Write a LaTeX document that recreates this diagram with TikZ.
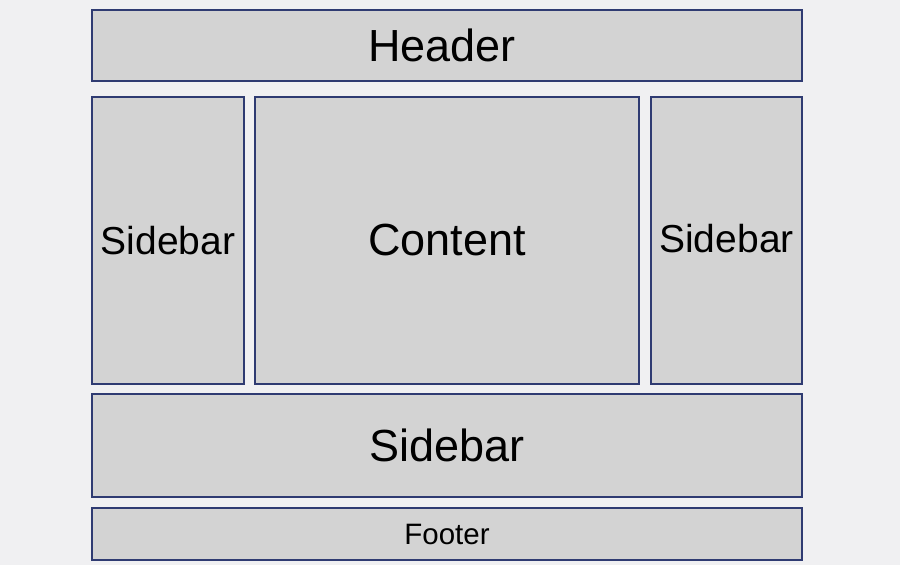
\documentclass[tikz,border=0pt]{standalone}
\usepackage{fontspec}
\setmainfont{Liberation Sans}
\definecolor{bg}{HTML}{F0F0F2}
\definecolor{boxfill}{HTML}{D3D3D3}
\definecolor{boxline}{HTML}{2F3B72}
\begin{document}
\begin{tikzpicture}[x=1pt,y=-1pt,
  box/.style={draw=boxline, fill=boxfill, line width=2.5pt, inner sep=0pt, outer sep=0pt, text=black, align=center},
  big/.style={font=\fontsize{45}{50}\selectfont},
  mid/.style={font=\fontsize{39}{44}\selectfont},
  small/.style={font=\fontsize{29.5}{34}\selectfont}]
\fill[bg] (0,0) rectangle (900,565);
\useasboundingbox (0,0) rectangle (900,565);
\node[box, big, minimum width=710pt, minimum height=71pt] (header) at (447,45.5) {\hspace*{-10pt}Header};
\node[box, mid, minimum width=152pt, minimum height=287pt] (left) at (168,240.5) {\raisebox{-16pt}{Sidebar}};
\node[box, big, minimum width=384pt, minimum height=287pt] (content) at (447,240.5) {Content};
\node[box, mid, minimum width=151pt, minimum height=287pt] (right) at (726.5,240.5) {\raisebox{4pt}{Sidebar}};
\node[box, big, minimum width=710pt, minimum height=103pt] (bottom) at (447,445.5) {Sidebar};
\node[box, small, minimum width=710pt, minimum height=52pt] (footer) at (447,534) {Footer};
\end{tikzpicture}
\end{document}
